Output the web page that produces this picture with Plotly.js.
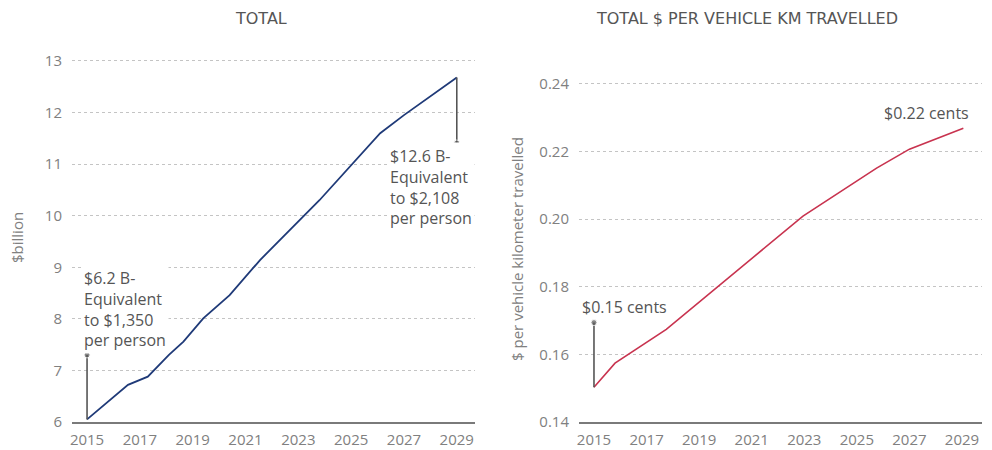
<!DOCTYPE html>
<html>
<head>
<meta charset="utf-8">
<script src="https://cdn.plot.ly/plotly-3.0.1.min.js"></script>
<style>html,body{margin:0;padding:0;background:#fff;}#chart{width:992px;height:450px;}</style>
</head>
<body>
<div id="chart"></div>
<script>
// Left chart: total cost ($billion)
const totalYears = [2015, 2016.55, 2017.3, 2018.1, 2018.65, 2019.4, 2020.4, 2021.55, 2023.8, 2026.1, 2027, 2029];
const totalValues = [6.05, 6.72, 6.88, 7.30, 7.56, 8.01, 8.46, 9.14, 10.30, 11.60, 11.95, 12.68];
// Right chart: $ per vehicle km travelled
const perKmYears = [2015, 2015.8, 2017.75, 2022.95, 2025.75, 2027, 2029.05];
const perKmValues = [0.1503, 0.1574, 0.1674, 0.2009, 0.2151, 0.2207, 0.2269];
// Callout leader ends
const leftCalloutStartTop = 7.30;
const leftCalloutEndBottom = 11.41;
const rightCalloutStartTop = 0.1694;
const xTickVals = [2015, 2017, 2019, 2021, 2023, 2025, 2027, 2029];
const xTickText = ['2015', '2017', '2019', '2021', '2023', '2025', '2027', '2029'];
const leftYTicks = [6, 7, 8, 9, 10, 11, 12, 13];
const rightYTicks = [0.14, 0.16, 0.18, 0.20, 0.22, 0.24];
const rightYTickText = ['0.14', '0.16', '0.18', '0.20', '0.22', '0.24'];

const FONT = '"Open Sans", "DejaVu Sans", sans-serif';
const TITLE_FONT = '"DejaVu Sans", sans-serif';
const navy = '#1f3a78';
const crimson = '#c8334f';
const leader = '#555555';

const traces = [
  {x: totalYears, y: totalValues, type: 'scatter', mode: 'lines', line: {color: navy, width: 1.8}, xaxis: 'x', yaxis: 'y', hoverinfo: 'x+y'},
  {x: perKmYears, y: perKmValues, type: 'scatter', mode: 'lines', line: {color: crimson, width: 1.6}, xaxis: 'x2', yaxis: 'y2', hoverinfo: 'x+y'},
  {x: [totalYears[0], totalYears[0]], y: [totalValues[0], leftCalloutStartTop], type: 'scatter', mode: 'lines+markers',
   line: {color: leader, width: 1.6}, marker: {size: [0, 6], color: leader}, xaxis: 'x', yaxis: 'y', hoverinfo: 'skip'},
  {x: [totalYears[totalYears.length-1], totalYears[totalYears.length-1]], y: [totalValues[totalValues.length-1], leftCalloutEndBottom], type: 'scatter', mode: 'lines+markers',
   line: {color: leader, width: 1.6}, marker: {size: [0, 6], color: leader}, xaxis: 'x', yaxis: 'y', hoverinfo: 'skip'},
  {x: [perKmYears[0], perKmYears[0]], y: [perKmValues[0], rightCalloutStartTop], type: 'scatter', mode: 'lines+markers',
   line: {color: leader, width: 1.6}, marker: {size: [0, 6], color: leader}, xaxis: 'x2', yaxis: 'y2', hoverinfo: 'skip'}
];

const xCommon = {
  tickvals: xTickVals, ticktext: xTickText, showgrid: false, zeroline: false,
  showline: true, linecolor: '#7a7a7a', linewidth: 2, ticks: '', ticklabelstandoff: 3,
  tickfont: {family: FONT, size: 15, color: '#808080'}
};
const yCommon = {
  showgrid: true, gridcolor: '#c4c4c4', griddash: 'dot', gridwidth: 1, zeroline: false,
  showline: false, ticks: '', ticklabelstandoff: 9, tickfont: {family: FONT, size: 15, color: '#808080'}
};

const layout = {
  width: 992, height: 450,
  margin: {l: 0, r: 0, t: 45, b: 28},
  paper_bgcolor: '#fff', plot_bgcolor: '#fff',
  showlegend: false,
  font: {family: FONT, color: '#555'},
  xaxis: Object.assign({}, xCommon, {domain: [72/992, 475/992], range: [2014.43, 2029.69], anchor: 'y'}),
  yaxis: Object.assign({}, yCommon, {domain: [0, 1], range: [6, 13.31], tickvals: leftYTicks, anchor: 'x'}),
  xaxis2: Object.assign({}, xCommon, {domain: [579/992, 982/992], range: [2014.43, 2029.76], anchor: 'y2'}),
  yaxis2: Object.assign({}, yCommon, {domain: [0, 1], range: [0.14, 0.2515], tickvals: rightYTicks, ticktext: rightYTickText, anchor: 'x2'}),
  annotations: [
    {text: 'TOTAL', xref: 'paper', yref: 'paper', x: 261/992, y: 1.0716, showarrow: false, xanchor: 'center', yanchor: 'middle',
     font: {family: TITLE_FONT, size: 16, color: '#555'}},
    {text: 'TOTAL $ PER VEHICLE KM TRAVELLED', xref: 'paper', yref: 'paper', x: 747/992, y: 1.0716, showarrow: false, xanchor: 'center', yanchor: 'middle',
     font: {family: TITLE_FONT, size: 16, color: '#555'}},
    {text: '$billion', xref: 'paper', yref: 'paper', x: 17/992, y: 0.488, textangle: -90, showarrow: false, xanchor: 'center', yanchor: 'middle',
     font: {family: FONT, size: 15, color: '#808080'}},
    {text: '$ per vehicle kilometer travelled', xref: 'paper', yref: 'paper', x: 517/992, y: 0.459, textangle: -90, showarrow: false, xanchor: 'center', yanchor: 'middle',
     font: {family: FONT, size: 15, color: '#808080'}},
    {text: '$6.2 B-<br>Equivalent<br>to $1,350<br>per person', xref: 'x', yref: 'y', x: 2014.77, y: 8.20, showarrow: false,
     xanchor: 'left', yanchor: 'middle', align: 'left', bgcolor: '#fff', borderpad: 2,
     font: {family: FONT, size: 16, color: '#555'}},
    {text: '$12.6 B-<br>Equivalent<br>to $2,108<br>per person', xref: 'x', yref: 'y', x: 2026.35, y: 10.55, showarrow: false,
     xanchor: 'left', yanchor: 'middle', align: 'left', bgcolor: '#fff', borderpad: 2,
     font: {family: FONT, size: 16, color: '#555'}},
    {text: '$0.15 cents', xref: 'x2', yref: 'y2', x: 2014.47, y: 0.1741, showarrow: false,
     xanchor: 'left', yanchor: 'middle', align: 'left',
     font: {family: FONT, size: 16, color: '#555'}},
    {text: '$0.22 cents', xref: 'x2', yref: 'y2', x: 2025.94, y: 0.2313, showarrow: false,
     xanchor: 'left', yanchor: 'middle', align: 'left',
     font: {family: FONT, size: 16, color: '#555'}}
  ]
};

Plotly.newPlot('chart', traces, layout, {displayModeBar: false, staticPlot: true});
</script>
</body>
</html>
